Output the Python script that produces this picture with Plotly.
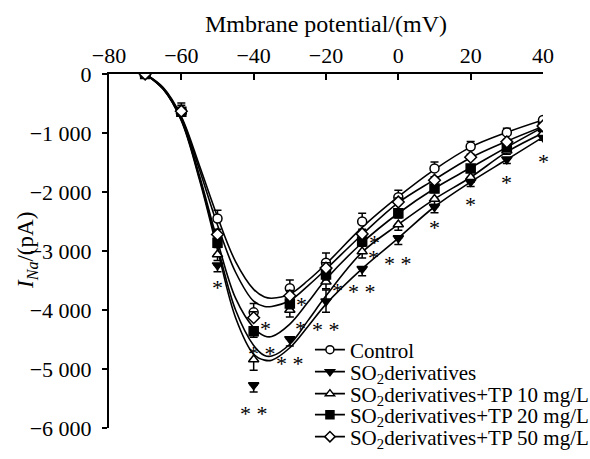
import plotly.graph_objects as go

# ---------------- data ----------------
voltage = [-70, -60, -50, -40, -30, -20, -10, 0, 10, 20, 30, 40]

control = [0, -630, -2450, -4040, -3630, -3200, -2500, -2090, -1600, -1230, -990, -780]
so2     = [0, -650, -3240, -5270, -4490, -3850, -3300, -2780, -2250, -1825, -1446, -1073]
tp10    = [0, -640, -3060, -4840, -4000, -3520, -3010, -2550, -2120, -1750, -1300, -1005]
tp20    = [0, -640, -2860, -4360, -3890, -3400, -2840, -2360, -1940, -1600, -1232, -900]
tp50    = [0, -630, -2720, -4130, -3760, -3290, -2710, -2170, -1800, -1410, -1150, -880]

control_err_up = [0, 140, 140, 150, 140, 165, 140, 120, 110, 85, 70, 40]
so2_err_down   = [0, 0, 110, 120, 120, 190, 120, 110, 100, 80, 70, 50]
so2_err_up     = [0, 0, 0, 0, 0, 190, 0, 0, 0, 0, 0, 0]
tp10_err_down  = [0, 0, 100, 180, 120, 120, 110, 100, 90, 80, 60, 50]
tp20_err_down  = [0, 0, 80, 100, 90, 90, 80, 80, 70, 60, 50, 40]
tp50_err_up    = [0, 100, 90, 100, 90, 90, 80, 70, 60, 50, 40, 30]

# fitted I-V curves
fit_voltage = [-70, -65, -60, -55, -50, -45, -40, -37, -35, -30, -25, -20, -10, 0, 10, 20, 30, 40]
control_fit = [0, -230, -720, -1550, -2420, -3180, -3650, -3780, -3800, -3730, -3500, -3220, -2600, -2080, -1620, -1240, -990, -780]
tp50_fit    = [0, -240, -740, -1620, -2560, -3360, -3850, -3940, -3940, -3840, -3590, -3310, -2720, -2180, -1790, -1420, -1140, -890]
tp20_fit    = [0, -250, -770, -1720, -2830, -3800, -4300, -4440, -4450, -4240, -3870, -3480, -2860, -2360, -1940, -1590, -1240, -900]
tp10_fit    = [0, -255, -780, -1760, -2920, -4000, -4600, -4770, -4780, -4580, -4180, -3760, -3020, -2550, -2120, -1750, -1320, -1000]
so2_fit     = [0, -260, -790, -1790, -2980, -4130, -4750, -4850, -4850, -4640, -4280, -3900, -3300, -2780, -2250, -1830, -1450, -1070]

# significance marks (per voltage)
sig_so2  = ["", "", "*", "**", "**", "**", "**", "**", "*", "*", "*", "*"]
sig_tp10 = ["", "", "", "", "*", "*", "*", "", "", "", "", ""]
sig_tp20 = ["", "", "", "**", "", "", "", "", "", "", "", ""]
sig_tp50 = ["", "", "", "*", "*", "", "*", "", "", "", "", ""]

series_names = ["Control", "SO<sub>2</sub>derivatives", "SO<sub>2</sub>derivatives+TP 10 mg/L",
                "SO<sub>2</sub>derivatives+TP 20 mg/L", "SO<sub>2</sub>derivatives+TP 50 mg/L"]

y_tickvals = [0, -1000, -2000, -3000, -4000, -5000, -6000]
y_ticktext = ["0", "\u22121 000", "\u22122 000", "\u22123 000", "\u22124 000", "\u22125 000", "\u22126 000"]
x_tickvals = [-80, -60, -40, -20, 0, 20, 40]

x_title = "Mmbrane potential/(mV)"
y_title = "<i>I</i><sub><i>Na</i></sub>/(pA)"

# ---------------- styling ----------------
FONT = "Liberation Serif, Times New Roman, serif"
BLACK = "#000000"
symbols = ["circle-open", "triangle-down", "triangle-up-open", "square", "diamond-open"]

fig = go.Figure()

fits = [control_fit, so2_fit, tp10_fit, tp20_fit, tp50_fit]
for f in fits:
    fig.add_trace(go.Scatter(x=fit_voltage, y=f, mode="lines",
                             line=dict(color=BLACK, width=1.6, shape="spline", smoothing=1.0),
                             showlegend=False, hoverinfo="skip"))

def err(up, down):
    return dict(type="data", symmetric=False, array=up, arrayminus=down,
                color=BLACK, thickness=1.5, width=4, visible=True)

zeros = [0] * len(voltage)
data_series = [
    (control, err(control_err_up, zeros)),
    (so2, err(so2_err_up, so2_err_down)),
    (tp10, err(zeros, tp10_err_down)),
    (tp20, err(zeros, tp20_err_down)),
    (tp50, err(tp50_err_up, zeros)),
]
for i, (vals, e) in enumerate(data_series):
    sym = symbols[i]
    fig.add_trace(go.Scatter(
        x=voltage, y=vals, mode="markers", error_y=e,
        marker=dict(symbol=sym.replace("-open", ""), size=9,
                    color="white" if "open" in sym else BLACK,
                    line=dict(color=BLACK, width=1.5)),
        showlegend=False))

# legend entries (one legend per item so spacing matches)
legend_centers = [350, 372, 394, 415, 437]
plot_top, plot_bottom = 74, 428
for i, name in enumerate(series_names):
    sym = symbols[i]
    lid = "legend" if i == 0 else f"legend{i+1}"
    fig.add_trace(go.Scatter(
        x=[None], y=[None], mode="lines+markers", name=name, legend=lid,
        line=dict(color=BLACK, width=1.6),
        marker=dict(symbol=sym.replace("-open", ""), size=8,
                    color="white" if "open" in sym else BLACK,
                    line=dict(color=BLACK, width=1.5)),
        showlegend=True))

legend_layout = {}
for i, yc in enumerate(legend_centers):
    lid = "legend" if i == 0 else f"legend{i+1}"
    legend_layout[lid] = dict(
        x=0.463, xanchor="left",
        y=(plot_bottom - yc) / (plot_bottom - plot_top), yanchor="middle",
        bgcolor="rgba(0,0,0,0)", borderwidth=0,
        font=dict(family=FONT, size=21, color=BLACK),
        itemwidth=30, tracegroupgap=0)

# significance annotations
annotations = []
def add_sig(labels, vals, xshift, yshifts):
    for v, val, lab, ys in zip(voltage, vals, labels, yshifts):
        if lab:
            annotations.append(dict(
                x=v, y=val, xref="x", yref="y", text=lab.replace("**", "* *"),
                showarrow=False, xshift=xshift, yshift=ys - 6,
                font=dict(family=FONT, size=22, color=BLACK)))

so2_shift = [0, 0, -16, -23, -19, -22, -17, -19, -15, -17, -17, -18]
add_sig(sig_so2, so2, 0, so2_shift)
add_sig(sig_tp10, tp10, 11, [0, 0, 0, 0, -12, -3, 0, 0, 0, 0, 0, 0])
add_sig(sig_tp20, tp20, 8, [0, 0, 0, -16, 0, 0, 0, 0, 0, 0, 0, 0])
add_sig(sig_tp50, tp50, 12, [0, 0, 0, -5, -3, 0, -3, 0, 0, 0, 0, 0])

# y-axis title as rotated annotation for exact placement
annotations.append(dict(x=0, y=0.5, xref="paper", yref="paper", text=y_title,
                        textangle=-90, showarrow=False, xanchor="center", yanchor="middle",
                        xshift=-82, font=dict(family=FONT, size=23, color=BLACK)))

fig.update_layout(
    width=590, height=459,
    margin=dict(l=109, r=47, t=74, b=31, pad=0, autoexpand=False),
    paper_bgcolor="white", plot_bgcolor="white",
    font=dict(family=FONT, size=22, color=BLACK),
    annotations=annotations,
    **legend_layout,
)

fig.update_xaxes(
    range=[-80, 40], side="top", tickvals=x_tickvals, automargin=False,
    ticks="inside", ticklen=6, tickwidth=2, tickcolor=BLACK,
    showline=True, linewidth=2, linecolor=BLACK,
    showgrid=False, zeroline=False,
    tickfont=dict(family=FONT, size=22),
    title=dict(text=x_title, font=dict(family=FONT, size=24), standoff=4),
)
fig.update_yaxes(
    range=[-6000, 0], tickvals=y_tickvals, ticktext=y_ticktext, automargin=False,
    ticks="outside", ticklen=5, tickwidth=2, tickcolor=BLACK, ticklabelstandoff=6,
    showline=True, linewidth=2, linecolor=BLACK,
    showgrid=False, zeroline=False,
    tickfont=dict(family=FONT, size=22),
)

fig.write_html("out.html", config={"displayModeBar": False},
               post_script="document.body.style.margin='0px';")
